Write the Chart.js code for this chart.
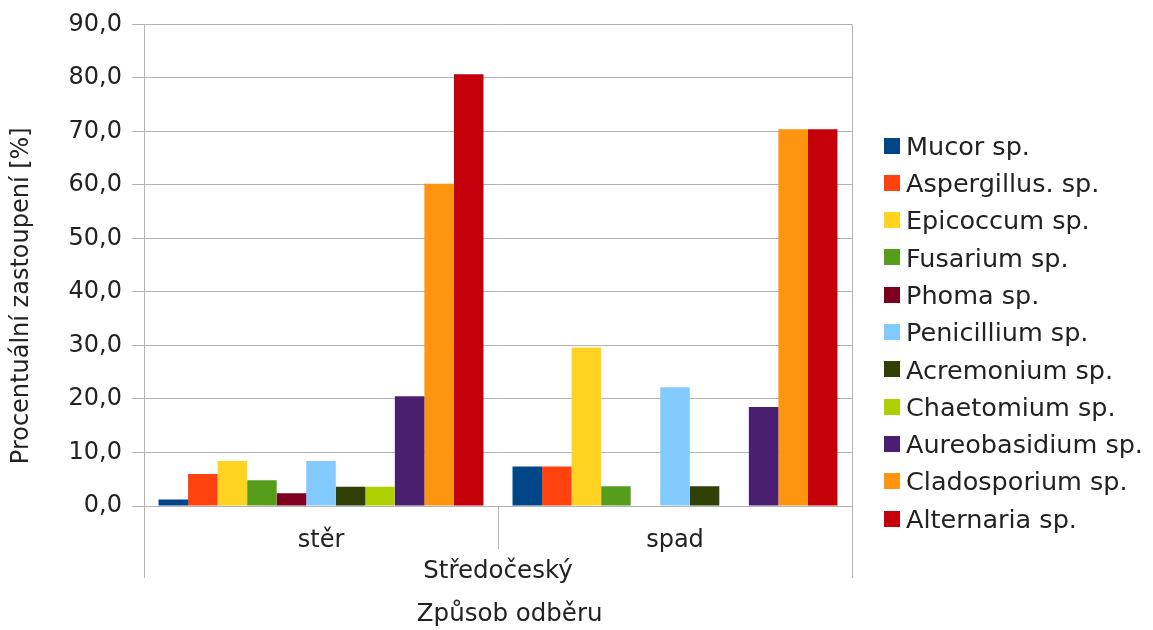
<!DOCTYPE html>
<html lang="cs">
<head>
<meta charset="utf-8">
<title>Procentuální zastoupení rodů plísní</title>
<script src="https://cdn.jsdelivr.net/npm/chart.js@4/dist/chart.umd.min.js"></script>
<style>
  html, body { margin: 0; padding: 0; background: #ffffff; }
  #wrap { width: 1153px; height: 630px; }
</style>
</head>
<body>
<div id="wrap"><canvas id="chart" width="1153" height="630"></canvas></div>
<script>
// Způsob odběru (categories) and the region grouping them
const categories = ['stěr', 'spad'];
const region = ['Středočeský'];

// Procentuální zastoupení [%] per genus: [stěr, spad]
const mucor         = [1.2, 7.4];
const aspergillus   = [6.0, 7.4];
const epicoccum     = [8.4, 29.6];
const fusarium      = [4.8, 3.7];
const phoma         = [2.4, 0.0];
const penicillium   = [8.4, 22.2];
const acremonium    = [3.6, 3.7];
const chaetomium    = [3.6, 0.0];
const aureobasidium = [20.5, 18.5];
const cladosporium  = [60.2, 70.4];
const alternaria    = [80.7, 70.4];

const seriesNames = [
  'Mucor sp.', 'Aspergillus. sp.', 'Epicoccum sp.', 'Fusarium sp.', 'Phoma sp.',
  'Penicillium sp.', 'Acremonium sp.', 'Chaetomium sp.', 'Aureobasidium sp.',
  'Cladosporium sp.', 'Alternaria sp.'
];
const seriesValues = [
  mucor, aspergillus, epicoccum, fusarium, phoma, penicillium,
  acremonium, chaetomium, aureobasidium, cladosporium, alternaria
];

// y-axis tick values
const yTicks = [0, 10, 20, 30, 40, 50, 60, 70, 80, 90];

// colours
const palette = [
  '#004586', '#ff420e', '#ffd320', '#579d1c', '#7e0021', '#83caff',
  '#314004', '#aecf00', '#4b1f6f', '#ff950e', '#c5000b'
];
const gridColor = '#b3b3b3';
const textColor = '#222222';
const FONT = 'DejaVu Sans';

Chart.defaults.font.family = FONT;
Chart.defaults.color = textColor;

const datasets = seriesNames.map((name, i) => ({
  label: name,
  data: seriesValues[i],
  backgroundColor: palette[i],
  borderWidth: 0,
  categoryPercentage: 0.918,
  barPercentage: 1.0
}));

const fmt = v => Number(v).toFixed(1).replace('.', ',');

// Vertical separators of the two-level category axis:
// short lines between categories, long lines at both ends of the region.
const categoryFrame = {
  id: 'categoryFrame',
  afterDraw(chart, args, opts) {
    const xs = chart.scales.x;
    const area = chart.chartArea;
    const ctx = chart.ctx;
    const n = xs.ticks.length;
    ctx.save();
    ctx.strokeStyle = opts.color;
    ctx.lineWidth = 1;
    for (let i = 0; i <= n; i++) {
      const px = Math.round(xs.left + i * (xs.right - xs.left) / n) + 0.5;
      const edge = (i === 0 || i === n);
      const y0 = (i === n) ? area.top : area.bottom;
      const y1 = area.bottom + (edge ? opts.outer : opts.inner);
      ctx.beginPath();
      ctx.moveTo(px, y0);
      ctx.lineTo(px, y1);
      ctx.stroke();
    }
    ctx.restore();
  }
};

// Legend column to the right of the plot
const sideLegend = {
  id: 'sideLegend',
  afterDraw(chart, args, opts) {
    const ctx = chart.ctx;
    const x0 = chart.chartArea.right + opts.gap;
    ctx.save();
    ctx.font = opts.fontSize + 'px "' + FONT + '"';
    ctx.textBaseline = 'alphabetic';
    ctx.textAlign = 'left';
    chart.data.datasets.forEach((ds, i) => {
      const yc = opts.firstRow + i * opts.rowStep;
      ctx.fillStyle = ds.backgroundColor;
      ctx.fillRect(x0, Math.round(yc - opts.box / 2), opts.box, opts.box);
      ctx.fillStyle = textColor;
      ctx.fillText(ds.label, x0 + opts.box + opts.textGap, yc + opts.baselineShift);
    });
    ctx.restore();
  }
};

new Chart(document.getElementById('chart'), {
  type: 'bar',
  data: { labels: categories, datasets },
  plugins: [categoryFrame, sideLegend],
  options: {
    responsive: false,
    animation: false,
    devicePixelRatio: 1,
    layout: { padding: { top: 23, right: 301, bottom: 0, left: 0 } },
    plugins: {
      tooltip: { enabled: false },
      legend: { display: false },
      categoryFrame: { color: gridColor, inner: 43, outer: 72 },
      sideLegend: {
        gap: 32, box: 16, textGap: 6, fontSize: 25.5,
        firstRow: 145.5, rowStep: 37.3, baselineShift: 9.2
      }
    },
    scales: {
      x: {
        type: 'category',
        position: 'bottom',
        offset: true,
        grid: { display: false, drawTicks: false, drawOnChartArea: false },
        border: { display: false },
        ticks: {
          autoSkip: false, maxRotation: 0,
          font: { size: 24, lineHeight: 1 },
          padding: 23, color: textColor
        },
        title: {
          display: true,
          text: [region[0], '   Způsob odběru'],
          color: textColor,
          font: { size: 24.5, lineHeight: '43px' },
          padding: { top: -25.5, bottom: -6.5 }
        }
      },
      y: {
        position: 'left',
        min: yTicks[0],
        max: yTicks[yTicks.length - 1],
        afterBuildTicks(scale) { scale.ticks = yTicks.map(v => ({ value: v })); },
        afterFit(scale) { scale.width = 144; },
        grid: { color: gridColor, tickLength: 12 },
        border: { display: true, color: gridColor },
        ticks: { font: { size: 24 }, padding: 10, color: textColor, callback: fmt },
        title: {
          display: true,
          text: 'Procentuální zastoupení [%]        ',
          color: textColor,
          font: { size: 24 },
          padding: { top: 7.6, bottom: 0 }
        }
      }
    }
  }
});
</script>
</body>
</html>
